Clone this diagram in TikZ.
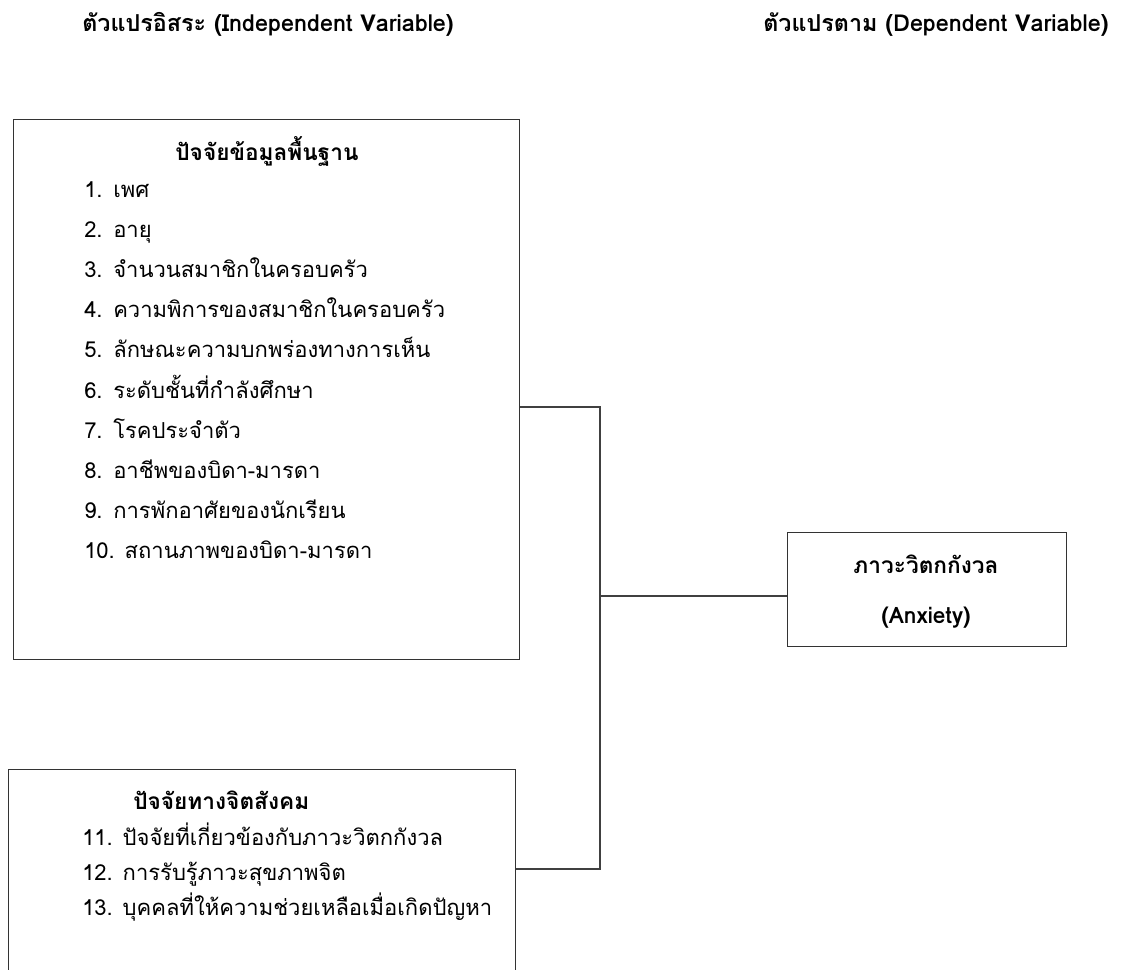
\documentclass[tikz,border=0pt]{standalone}
\usepackage{fontspec}
\setmainfont[Script=Thai]{Loma}
\begin{document}
\begin{tikzpicture}[x=0.75pt,y=-0.75pt,
  box/.style={draw=black!80,line width=0.9pt,anchor=north west,inner sep=0pt},
  txt/.style={anchor=base west,inner sep=0pt,font=\fontsize{16.5}{19}\selectfont},
  bold/.style={txt,font=\bfseries\fontsize{17}{19}\selectfont},
  link/.style={draw=black!75,line width=0.9pt}]
\clip (0,0) rectangle (1133,970);
% headings
\node[bold,font=\bfseries\fontsize{17.5}{19}\selectfont] (indep) at (82,32) {ตัวแปรอิสระ (Independent Variable)};
\node[bold,font=\bfseries\fontsize{17.5}{19}\selectfont] (dep) at (763,32) {ตัวแปรตาม (Dependent Variable)};
% boxes
\node[box,minimum width=379.5pt,minimum height=405pt] (basic) at (13,119) {};
\node[box,minimum width=380.25pt,minimum height=195pt] (psycho) at (8,769) {};
\node[box,minimum width=209.25pt,minimum height=85.5pt] (anx) at (787,532) {};
% basic factors
\node[bold,anchor=base] (basictitle) at (267,161) {ปัจจัยข้อมูลพื้นฐาน};
\foreach \n/\t in {1/เพศ,2/อายุ,3/จำนวนสมาชิกในครอบครัว,4/ความพิการของสมาชิกในครอบครัว,
  5/ลักษณะความบกพร่องทางการเห็น,6/ระดับชั้นที่กำลังศึกษา,7/โรคประจำตัว,
  8/อาชีพของบิดา-มารดา,9/การพักอาศัยของนักเรียน}{
  \node[txt] (num\n) at (84,{198+40*(\n-1)}) {\n.};
  \node[txt] (item\n) at (113,{198+40*(\n-1)}) {\t};
}
\node[txt] (item10) at (84,558) {10. สถานภาพของบิดา-มารดา};
% psychosocial factors
\node[bold] (psychotitle) at (133,809) {ปัจจัยทางจิตสังคม};
\node[txt] (item11) at (82,845) {11. ปัจจัยที่เกี่ยวข้องกับภาวะวิตกกังวล};
\node[txt] (item12) at (82,880) {12. การรับรู้ภาวะสุขภาพจิต};
\node[txt] (item13) at (82,915) {13. บุคคลที่ให้ความช่วยเหลือเมื่อเกิดปัญหา};
% dependent variable
\node[bold,anchor=base] (anxth) at (926,573) {ภาวะวิตกกังวล};
\node[bold,anchor=base] (anxen) at (926,623) {(Anxiety)};
% connectors
\coordinate (jtop) at (600,407);
\coordinate (jbot) at (600,869);
\coordinate (jmid) at (600,596);
\draw[link] (basic.east |- jtop) -- (jtop) -- (jbot) -- (psycho.east |- jbot);
\draw[link] (jmid) -- (anx.west |- jmid);
\end{tikzpicture}
\end{document}
